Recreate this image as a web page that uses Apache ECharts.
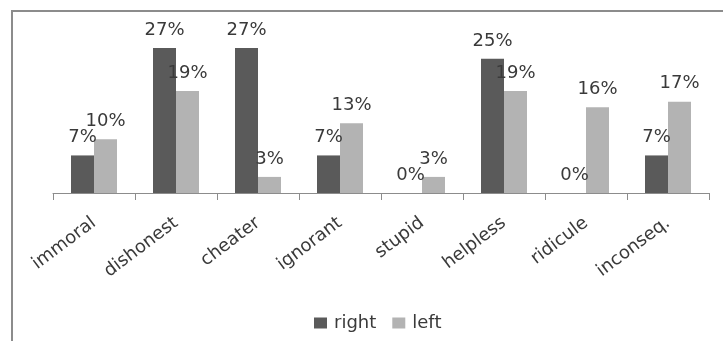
<!DOCTYPE html>
<html>
<head>
<meta charset="utf-8">
<script src="https://cdn.jsdelivr.net/npm/echarts@6/dist/echarts.min.js"></script>
<style>
  html, body { margin: 0; padding: 0; background: #ffffff; }
  #chart { width: 723px; height: 341px; }
</style>
</head>
<body>
<div id="chart"></div>
<script>
// Share of responses per attribute, in percent
const categories = ['immoral', 'dishonest', 'cheater', 'ignorant', 'stupid', 'helpless', 'ridicule', 'inconseq.'];
const rightValues = [7, 27, 27, 7, 0, 25, 0, 7];
const leftValues = [10, 19, 3, 13, 3, 19, 16, 17];
const seriesNames = ['right', 'left'];

const FONT = 'DejaVu Sans';
const TEXT_COLOR = '#3a3a3a';

const chart = echarts.init(document.getElementById('chart'), null, { renderer: 'canvas' });

const valueLabel = {
  show: true,
  position: 'top',
  distance: 9,
  formatter: '{c}%',
  fontFamily: FONT,
  fontSize: 18,
  color: TEXT_COLOR
};

chart.setOption({
  animation: false,
  backgroundColor: '#ffffff',
  graphic: [{
    type: 'rect',
    shape: { x: 12, y: 11, width: 740, height: 360 },
    style: { fill: 'none', stroke: '#8c8c8c', lineWidth: 2 },
    z: 0
  }],
  grid: { left: 53, right: 14, top: 32, bottom: 148 },
  legend: {
    data: seriesNames,
    left: 309,
    top: 309,
    icon: 'rect',
    itemWidth: 13,
    itemHeight: 11,
    itemGap: 16,
    textStyle: { fontFamily: FONT, fontSize: 18, color: TEXT_COLOR, padding: [0, 0, 0, 2] }
  },
  xAxis: {
    type: 'category',
    data: categories,
    axisLine: { lineStyle: { color: '#8c8c8c', width: 1 } },
    axisTick: { show: true, length: 7, lineStyle: { color: '#8c8c8c' } },
    axisLabel: {
      rotate: 37,
      margin: 28,
      interval: 0,
      fontFamily: FONT,
      fontSize: 18,
      color: TEXT_COLOR
    }
  },
  yAxis: {
    type: 'value',
    min: 0,
    max: 30,
    show: false,
    splitLine: { show: false }
  },
  series: [
    {
      name: seriesNames[0],
      type: 'bar',
      data: rightValues,
      barWidth: 23,
      barGap: '0%',
      itemStyle: { color: '#5a5a5a' },
      label: valueLabel
    },
    {
      name: seriesNames[1],
      type: 'bar',
      data: leftValues,
      barWidth: 23,
      barGap: '0%',
      itemStyle: { color: '#b3b3b3' },
      label: valueLabel
    }
  ]
});
</script>
</body>
</html>
